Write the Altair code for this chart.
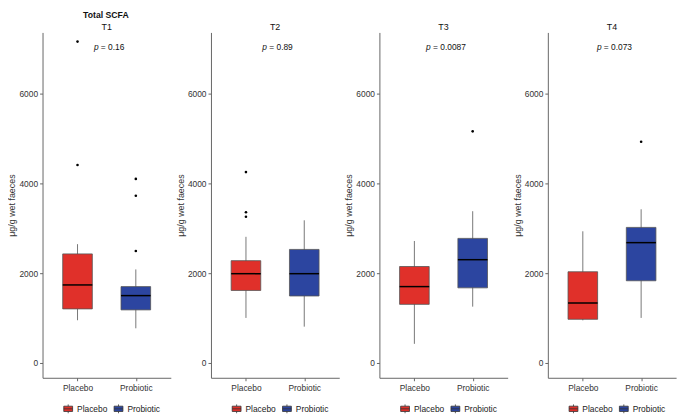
import altair as alt
import pandas as pd

# ---------------- data ----------------
times = ["T1", "T2", "T3", "T4"]
groups = ["Placebo", "Probiotic"]
whisker_low = [[952, 772], [1004, 809], [426, 1255], [950, 1004]]
q1 = [[1205, 1183], [1616, 1493], [1306, 1674], [973, 1832]]
median = [[1739, 1501], [1990, 1990], [1702, 2302], [1335, 2682]]
q3 = [[2431, 1702], [2280, 2531], [2150, 2777], [2033, 3022]]
whisker_high = [[2648, 2085], [2812, 3180], [2719, 3383], [2935, 3426]]
outliers_placebo = [[4413, 7165], [4255, 3361, 3260], [], []]
outliers_probiotic = [[4103, 3729, 2496], [], [5163], [4932]]
p_values = ["0.16", "0.89", "0.0087", "0.073"]
y_ticks = [0, 2000, 4000, 6000]

# ---------------- style ----------------
FONT = "Liberation Sans"
W, H = 130, 350
Y_DOMAIN = [-331, 7369]
RED, BLUE = "#E0302A", "#2C45A0"
EDGE = "#555555"
FS = 8.5
P_TEXT_Y = 7050
LEGEND_PATH = "M-1,-0.6H1V0.6H-1Z M-1,0H1 M0,-0.6V-1 M0,0.6V1"

CHAR_W = {"=": 0.584, " ": 0.278, ".": 0.278}


def text_width(s, size):
    return sum(CHAR_W.get(c, 0.556) for c in s) * size


def panel(i):
    box_df = pd.DataFrame({
        "group": groups,
        "lo": whisker_low[i],
        "q1": q1[i],
        "med": median[i],
        "q3": q3[i],
        "hi": whisker_high[i],
    })
    out_df = pd.DataFrame({
        "group": ["Placebo"] * len(outliers_placebo[i]) + ["Probiotic"] * len(outliers_probiotic[i]),
        "value": outliers_placebo[i] + outliers_probiotic[i],
    })
    x = alt.X(
        "group:N",
        scale=alt.Scale(type="point", domain=groups, padding=0.6),
        axis=alt.Axis(title=None, labelAngle=0, labelPadding=3, tickSize=3),
    )
    yscale = alt.Scale(domain=Y_DOMAIN, nice=False, zero=False)
    yaxis = alt.Axis(title="μg/g wet faeces", values=y_ticks, format="d", tickSize=3,
                     labelPadding=2, titlePadding=2, grid=False)

    base = alt.Chart(box_df)
    whisk = base.mark_rule(color=EDGE, strokeWidth=0.8).encode(
        x=x, y=alt.Y("lo:Q", scale=yscale, axis=yaxis), y2="hi:Q"
    )
    box = base.mark_bar(size=30, stroke=EDGE, strokeWidth=0.8, opacity=1).encode(
        x=x,
        y=alt.Y("q1:Q", scale=yscale),
        y2="q3:Q",
        color=alt.Color(
            "group:N",
            scale=alt.Scale(domain=groups, range=[RED, BLUE]),
            legend=alt.Legend(
                orient="none", legendX=21, legendY=H + 26, direction="horizontal",
                title=None, symbolType=LEGEND_PATH, symbolSize=80,
                symbolStrokeColor="#333333", symbolStrokeWidth=0.8,
                labelFontSize=FS, labelOffset=4, columnPadding=4,
                labelColor="#222222", padding=0,
            ),
        ),
    )
    med = base.mark_tick(size=30, thickness=1.5, color="black", opacity=1).encode(
        x=x, y=alt.Y("med:Q", scale=yscale)
    )
    pts = alt.Chart(out_df).mark_circle(size=7, color="black", opacity=1).encode(
        x=x, y=alt.Y("value:Q", scale=yscale)
    )

    rest = "= " + p_values[i]
    total = 7 + text_width(rest, FS)
    p_left = W / 2 + 2.5 - total / 2
    pdf = pd.DataFrame({"p": ["p"], "rest": [rest], "yv": [P_TEXT_Y]})
    ptxt = alt.Chart(pdf).mark_text(
        fontStyle="italic", align="left", baseline="middle", fontSize=FS, color="#111111"
    ).encode(x=alt.value(p_left), y=alt.Y("yv:Q", scale=yscale), text="p:N")
    rtxt = alt.Chart(pdf).mark_text(
        align="left", baseline="middle", fontSize=FS, color="#111111"
    ).encode(x=alt.value(p_left + 7), y=alt.Y("yv:Q", scale=yscale), text="rest:N")

    return alt.layer(whisk, box, med, pts, ptxt, rtxt).properties(
        width=W, height=H,
        title=alt.TitleParams(times[i], fontSize=9, fontWeight="normal",
                              anchor="middle", offset=0, color="#111111"),
    )


chart = (
    alt.hconcat(*[panel(i) for i in range(4)], spacing=40.7, bounds="flush")
    .resolve_legend(color="independent")
    .properties(
        padding=0,
        title=alt.TitleParams("Total SCFA", anchor="start", fontSize=8.8,
                              fontWeight="bold", dx=76, dy=-3, offset=1, color="#111111"),
    )
    .configure(font=FONT)
    .configure_view(stroke=None)
    .configure_axis(
        domainColor="#666666", tickColor="#666666", labelColor="#333333",
        labelFontSize=FS, titleFontSize=9, titleFontWeight="normal",
        titleColor="#333333", domainWidth=1,
    )
)

chart.save("out.html", embed_options={"renderer": "svg", "actions": False})
